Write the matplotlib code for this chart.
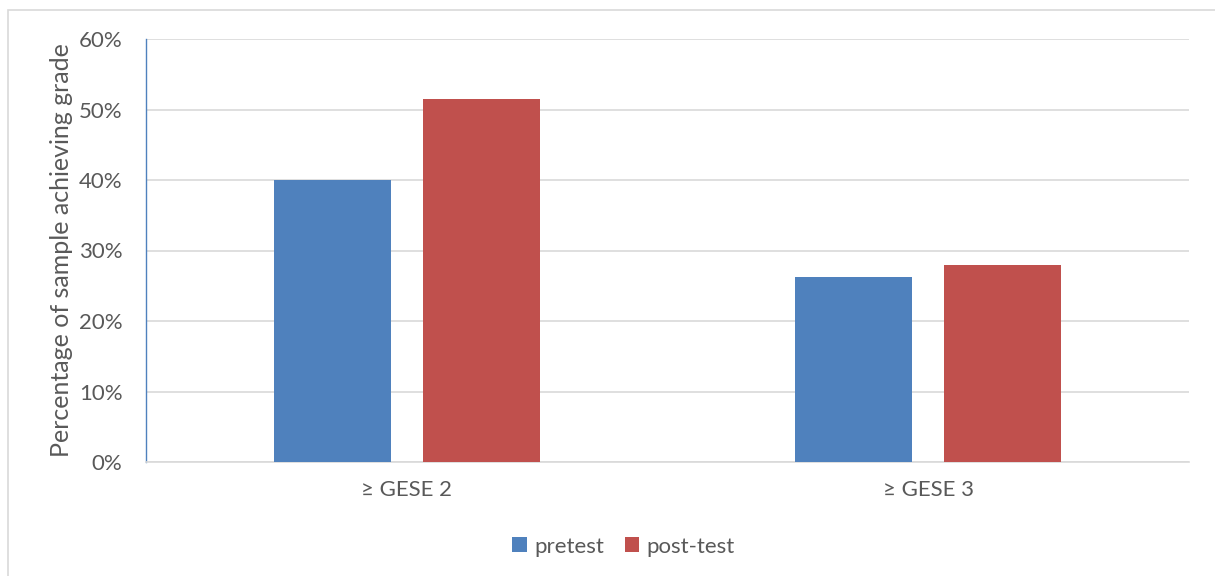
import numpy as np
import matplotlib.pyplot as plt
from matplotlib.patches import Rectangle
from matplotlib.ticker import PercentFormatter

categories = ['≥ GESE 2', '≥ GESE 3']
pretest = [40.0, 26.3]
posttest = [51.5, 28.0]
series_names = ['pretest', 'post-test']

plt.rcParams['font.family'] = ['Lato', 'DejaVu Sans']

W, H = 1215, 576
fig = plt.figure(figsize=(W / 100, H / 100), dpi=100)

# outer chart frame (cut off at right and bottom)
fig.patches.append(Rectangle((8 / W, -0.1), 1.2, 1 - 10 / H + 0.1,
                             transform=fig.transFigure, fill=False,
                             edgecolor='#d9d9d9', linewidth=1.2))

ax = fig.add_axes([146 / W, 1 - 462 / H, (1189 - 146) / W, (462 - 39) / H])

x = np.arange(len(categories))
bw = 0.224
off = 0.143
ax.bar(x - off, pretest, bw, color='#4f81bd', label=series_names[0], zorder=3)
ax.bar(x + off, posttest, bw, color='#c0504d', label=series_names[1], zorder=3)

ax.set_xlim(-0.5, 1.5)
ax.set_ylim(0, 60)
ax.set_yticks(np.arange(0, 61, 10))
ax.yaxis.set_major_formatter(PercentFormatter(decimals=0))
ax.set_xticks(x)
ax.set_xticklabels(categories)

ax.grid(axis='y', color='#d9d9d9', linewidth=1.2, zorder=0)
for s in ['top', 'right']:
    ax.spines[s].set_visible(False)
ax.spines['left'].set_color('#4f81bd')
ax.spines['left'].set_linewidth(1.0)
ax.spines['bottom'].set_color('#d9d9d9')
ax.spines['bottom'].set_linewidth(1.2)
ax.tick_params(length=0, colors='#595959', labelsize=16)
ax.tick_params(axis='x', pad=13)
ax.tick_params(axis='y', pad=17)

ax.set_ylabel('Percentage of sample achieving grade', fontsize=18,
              color='#595959', labelpad=4)

leg = ax.legend(loc='center', bbox_to_anchor=(0.458, -0.2), ncol=2,
                frameon=False, fontsize=16, handlelength=0.65, handleheight=0.65,
                handletextpad=0.35, columnspacing=0.9, labelcolor='#595959')

fig.savefig('out.png', dpi=100)
